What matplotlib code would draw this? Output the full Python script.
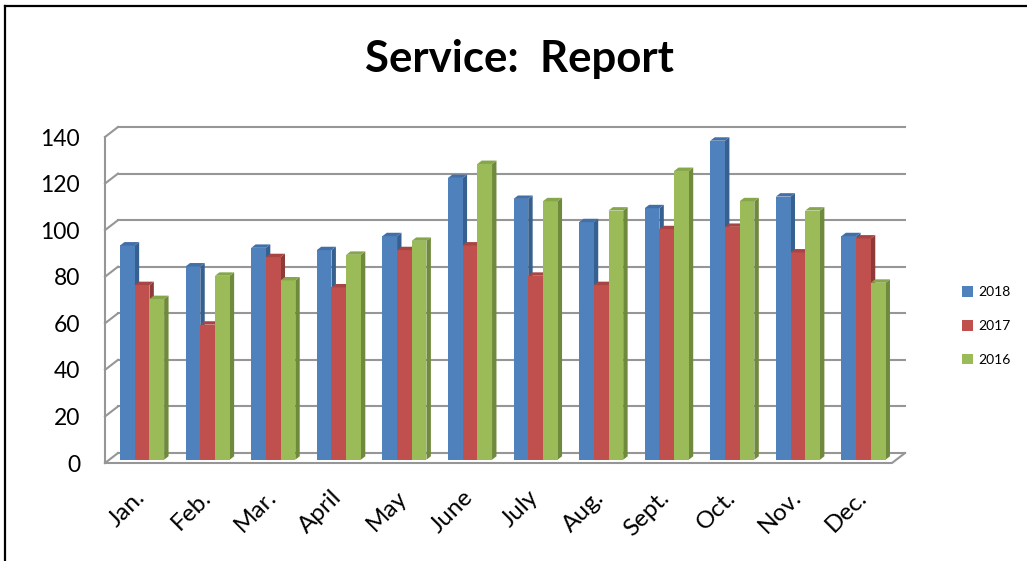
import numpy as np
import matplotlib
matplotlib.use("Agg")
import matplotlib.pyplot as plt
from matplotlib.patches import Polygon, Patch
from matplotlib.lines import Line2D

plt.rcParams["font.family"] = ["Lato", "DejaVu Sans"]

months = ["Jan.", "Feb.", "Mar.", "April", "May", "June",
          "July", "Aug.", "Sept.", "Oct.", "Nov.", "Dec."]
series_names = ["2018", "2017", "2016"]
vals_2018 = [92, 83, 91, 90, 96, 121, 112, 102, 108, 137, 113, 96]
vals_2017 = [75, 58, 87, 74, 90, 92, 79, 75, 99, 100, 89, 95]
vals_2016 = [69, 79, 77, 88, 94, 127, 111, 107, 124, 111, 107, 76]
y_ticks = [0, 20, 40, 60, 80, 100, 120, 140]

front_cols = ["#4F81BD", "#C0504D", "#9BBB59"]
side_cols = ["#35608F", "#8E3A38", "#6F8A3C"]
top_cols = ["#426FA8", "#A84542", "#86A64A"]

W, H = 1027, 561
fig = plt.figure(figsize=(W / 100, H / 100), dpi=100)

# front plane of the 3d box, in pixels
x0_px, x1_px, y0_px, y1_px = 105, 892, 463, 137
ax = fig.add_axes([x0_px / W, (H - y0_px) / H, (x1_px - x0_px) / W, (y0_px - y1_px) / H])
ax.set_xlim(-0.5, 11.5)
ax.set_ylim(0, 140)

ux = 12 / (x1_px - x0_px)
uy = 140 / (y0_px - y1_px)
WX, WY = 13 * ux, 10 * uy          # wall depth
SX, SY = 0.33 * WX, 0.33 * WY      # bar front depth
DX, DY = 0.34 * WX, 0.34 * WY      # bar depth
bw = 14.7 / 65.58

grid_c = "#969696"
lw = 1.5
for v in y_ticks:
    ax.plot([-0.5 + WX, 11.5 + WX], [v + WY, v + WY], color=grid_c, lw=lw, clip_on=False, zorder=1)
    ax.plot([-0.5, -0.5 + WX], [v, v + WY], color=grid_c, lw=lw, clip_on=False, zorder=1)
ax.plot([-0.5, -0.5], [0, 140], color=grid_c, lw=lw, clip_on=False, zorder=1)
ax.plot([-0.5, 11.5, 11.5 + WX], [0, 0, WY], color=grid_c, lw=lw, clip_on=False, zorder=1)

x = np.arange(len(months))
all_vals = [vals_2018, vals_2017, vals_2016]
handles = []
for k, vals in enumerate(all_vals):
    left = x - 1.5 * bw + k * bw + SX
    ax.bar(left, vals, width=bw, bottom=SY, align="edge", color=front_cols[k],
           zorder=3 + k, clip_on=False)
    for xl, v in zip(left, vals):
        top = SY + v
        side = Polygon([(xl + bw, SY), (xl + bw + DX, SY + DY), (xl + bw + DX, top + DY), (xl + bw, top)],
                       closed=True, facecolor=side_cols[k], edgecolor="none", zorder=2.9 + k, clip_on=False)
        cap = Polygon([(xl, top), (xl + DX, top + DY), (xl + bw + DX, top + DY), (xl + bw, top)],
                      closed=True, facecolor=top_cols[k], edgecolor="none", zorder=3.05 + k, clip_on=False)
        ax.add_patch(side)
        ax.add_patch(cap)
    handles.append(Patch(facecolor=front_cols[k], label=series_names[k]))

for s in ax.spines.values():
    s.set_visible(False)
ax.set_yticks(y_ticks)
ax.set_yticklabels([str(t) for t in y_ticks], fontsize=16.5)
ax.set_xticks(x + SX - 0.12)
ax.set_xticklabels(months, fontsize=17.5, rotation=45, ha="right", va="top", rotation_mode="anchor")
ax.tick_params(axis="y", length=0, pad=18)
ax.tick_params(axis="x", length=0, pad=17)

fig.legend(handles=handles, loc="center left", bbox_to_anchor=(949 / W, (H - 326) / H),
           frameon=False, fontsize=10, handlelength=0.8, handleheight=0.8,
           handletextpad=0.4, labelspacing=1.55)

fig.text(519 / W, 1 - 59 / H, "Service:  Report", ha="center", va="center",
         fontsize=31.5, fontweight="bold")

fig.add_artist(Line2D([5 / W, 5 / W], [0, 1 - 6 / H], color="black", lw=1.6, transform=fig.transFigure))
fig.add_artist(Line2D([5 / W, 1], [1 - 6 / H, 1 - 6 / H], color="black", lw=1.6, transform=fig.transFigure))

fig.savefig("out.png", dpi=100)
